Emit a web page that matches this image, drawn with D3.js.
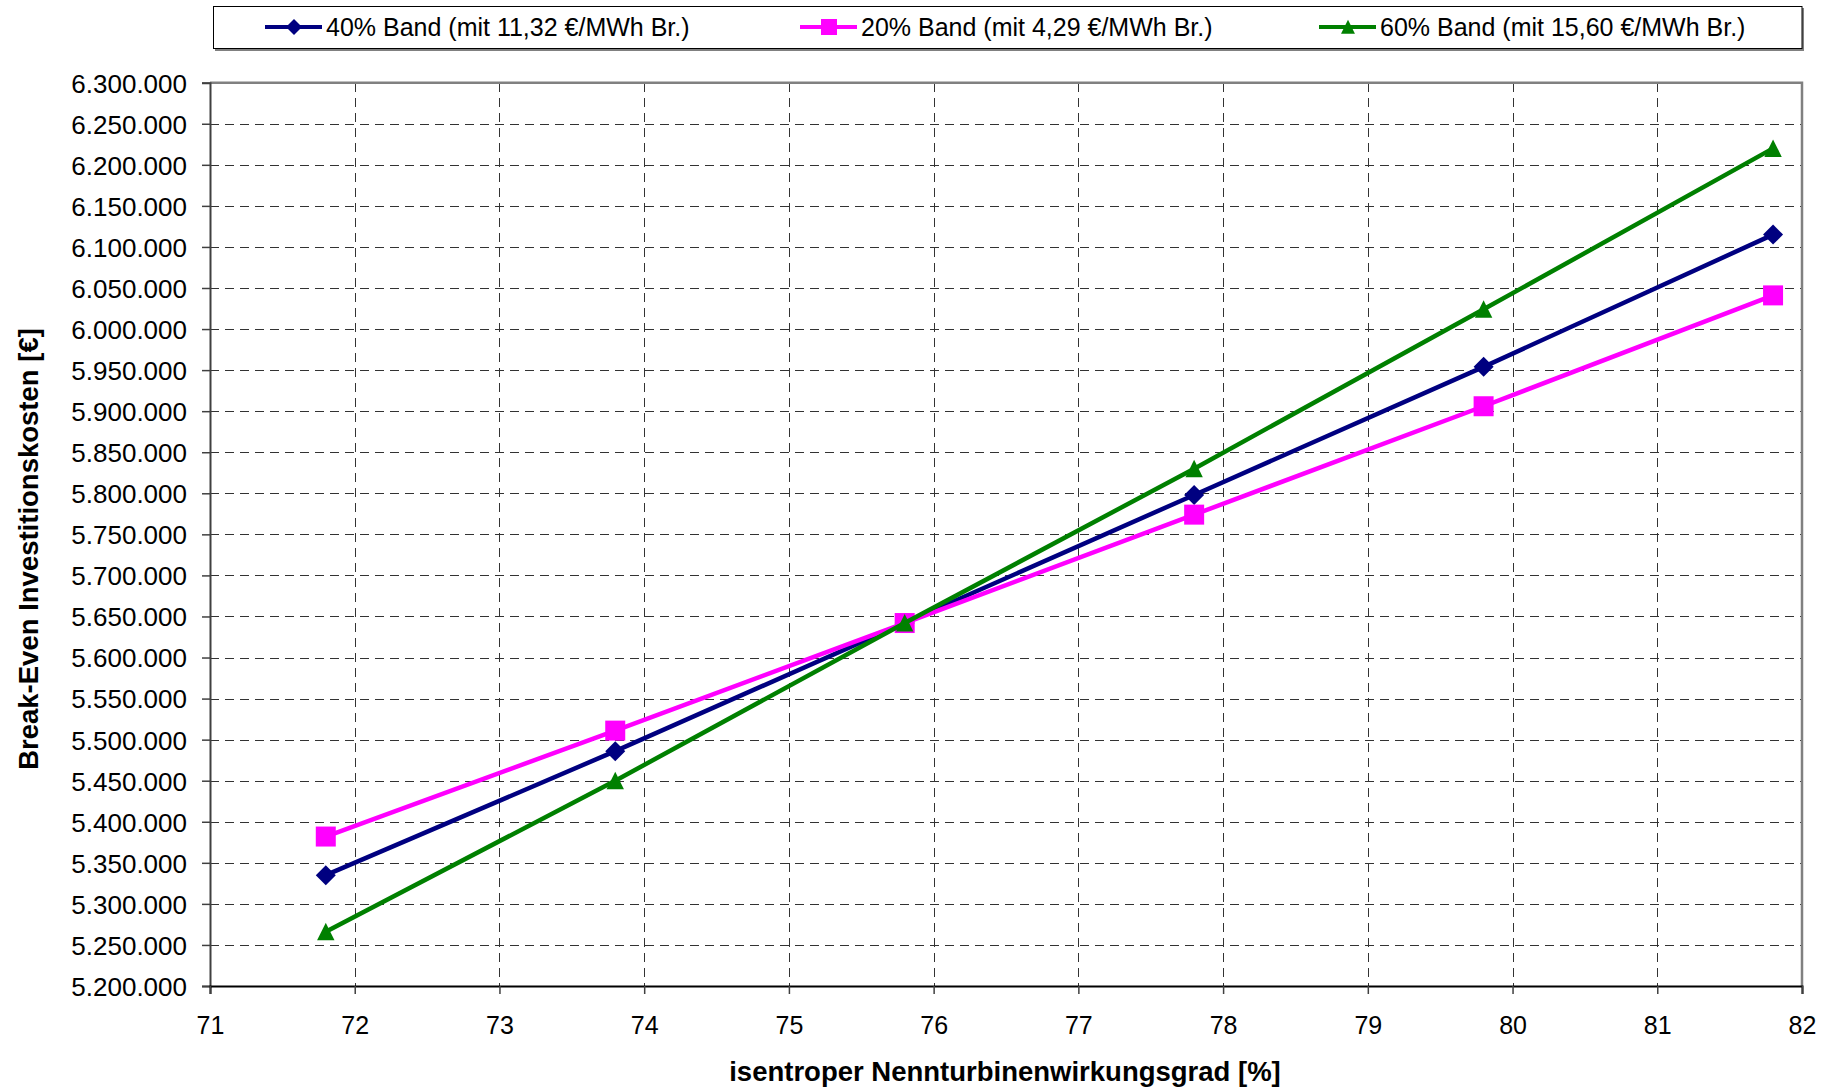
<!DOCTYPE html>
<html>
<head>
<meta charset="utf-8">
<script src="https://cdn.jsdelivr.net/npm/d3@7"></script>
<style>
  body { margin: 0; background: #fff; }
  svg { display: block; }
  text { font-family: "Liberation Sans", Arial, sans-serif; fill: #000; }
</style>
</head>
<body>
<svg id="chart" width="1836" height="1091"></svg>
<script>
// Isentropic nominal turbine efficiency [%]
const efficiency = [71.8, 73.8, 75.8, 77.8, 79.8, 81.8];

// Break-even investment costs [€] per band scenario
const band40 = [5335000, 5486000, 5642000, 5798000, 5954000, 6115000];
const band20 = [5382000, 5511000, 5642000, 5774000, 5906000, 6041000];
const band60 = [5266000, 5450000, 5642000, 5830000, 6024000, 6220000];

const seriesNames = [
  "40% Band (mit 11,32 €/MWh Br.)",
  "20% Band (mit 4,29 €/MWh Br.)",
  "60% Band (mit 15,60 €/MWh Br.)"
];
const seriesColors = ["#000080", "#FF00FF", "#008000"];
const seriesMarkers = ["diamond", "square", "triangle"];

const xTicks = [71, 72, 73, 74, 75, 76, 77, 78, 79, 80, 81, 82];
const yTicks = [5200000, 5250000, 5300000, 5350000, 5400000, 5450000, 5500000,
  5550000, 5600000, 5650000, 5700000, 5750000, 5800000, 5850000, 5900000,
  5950000, 6000000, 6050000, 6100000, 6150000, 6200000, 6250000, 6300000];

const xTitle = "isentroper Nennturbinenwirkungsgrad [%]";
const yTitle = "Break-Even Investitionskosten [€]";

const seriesValues = [band40, band20, band60];
const series = seriesNames.map((name, i) => ({
  name,
  color: seriesColors[i],
  marker: seriesMarkers[i],
  points: efficiency.map((x, j) => ({ x, y: seriesValues[i][j] }))
}));

// Layout
const plot = { left: 210, right: 1802, top: 82.7, bottom: 986 };

const x = d3.scaleLinear().domain([71, 82]).range([plot.left, plot.right]);
const y = d3.scaleLinear().domain([5200000, 6300000]).range([plot.bottom, plot.top]);

const de = d3.formatLocale({ decimal: ",", thousands: ".", grouping: [3], currency: ["", " €"] });
const fmt = de.format(",.0f");

const svg = d3.select("#chart");

// Gridlines
const grid = svg.append("g").attr("class", "grid")
  .attr("stroke", "#333").attr("stroke-width", 1).attr("stroke-dasharray", "9,6")
  .attr("shape-rendering", "crispEdges");
grid.selectAll("line.h")
  .data(yTicks.filter(t => t > 5200000 && t < 6300000))
  .join("line").attr("class", "h")
  .attr("x1", plot.left).attr("x2", plot.right)
  .attr("y1", d => Math.round(y(d)) + 0.5).attr("y2", d => Math.round(y(d)) + 0.5);
grid.selectAll("line.v")
  .data(xTicks.filter(t => t > 71 && t < 82))
  .join("line").attr("class", "v")
  .attr("y1", plot.top).attr("y2", plot.bottom)
  .attr("x1", d => Math.round(x(d)) + 0.5).attr("x2", d => Math.round(x(d)) + 0.5);

// Plot frame (top and right)
svg.append("path")
  .attr("d", `M${plot.left},${plot.top}H${plot.right}V${plot.bottom}`)
  .attr("fill", "none").attr("stroke", "#808080").attr("stroke-width", 2.5);

// Y axis
const yAxis = d3.axisLeft(y).tickValues(yTicks).tickFormat(fmt).tickSize(8).tickPadding(15);
const gy = svg.append("g").attr("transform", `translate(${plot.left},0)`).call(yAxis);
gy.select(".domain").attr("stroke", "#404040").attr("stroke-width", 2);
gy.selectAll(".tick line").attr("stroke", "#404040").attr("stroke-width", 1.5);
gy.selectAll(".tick text").attr("font-size", 26).attr("dy", "0.36em")
  .style("font-family", "'Liberation Sans', Arial, sans-serif");

// X axis
const xAxis = d3.axisBottom(x).tickValues(xTicks).tickFormat(d3.format("d")).tickSize(8).tickPadding(22);
const gx = svg.append("g").attr("transform", `translate(0,${plot.bottom})`).call(xAxis);
gx.select(".domain").attr("stroke", "#000").attr("stroke-width", 2);
gx.selectAll(".tick line").attr("stroke", "#404040").attr("stroke-width", 1.5);
gx.selectAll(".tick text").attr("font-size", 25)
  .style("font-family", "'Liberation Sans', Arial, sans-serif");
svg.selectAll(".tick text").attr("fill", "#000");

// Axis titles
svg.append("text")
  .attr("x", (plot.left + plot.right) / 2 - 1).attr("y", 1081)
  .attr("text-anchor", "middle").attr("font-size", 27.5).attr("font-weight", "bold")
  .text(xTitle);
svg.append("text")
  .attr("transform", "translate(38,549) rotate(-90)")
  .attr("text-anchor", "middle").attr("font-size", 27.5).attr("font-weight", "bold")
  .text(yTitle);

// Marker shapes
function markerPath(type, s) {
  if (type === "diamond") return `M0,${-10 * s}L${10 * s},0L0,${10 * s}L${-10 * s},0Z`;
  if (type === "square") return `M${-10 * s},${-10 * s}H${10 * s}V${10 * s}H${-10 * s}Z`;
  return `M0,${-9 * s}L${8.7 * s},${8.5 * s}L${-8.7 * s},${8.5 * s}Z`;
}

// Series lines and markers
const line = d3.line().x(d => x(d.x)).y(d => y(d.y));
const gs = svg.append("g").attr("class", "series");
series.forEach(s => {
  const g = gs.append("g");
  g.append("path").datum(s.points)
    .attr("d", line).attr("fill", "none")
    .attr("stroke", s.color).attr("stroke-width", 4.5).attr("stroke-linejoin", "round");
  g.selectAll("path.mark").data(s.points).join("path").attr("class", "mark")
    .attr("transform", d => `translate(${x(d.x)},${y(d.y)})`)
    .attr("d", markerPath(s.marker, 1))
    .attr("fill", s.color);
});

// Legend
const legend = svg.append("g").attr("class", "legend");
legend.append("rect")
  .attr("x", 215).attr("y", 8).attr("width", plot.right - 215 + 2).attr("height", 43)
  .attr("fill", "#808080");
legend.append("rect")
  .attr("x", 213.5).attr("y", 6.5).attr("width", plot.right - 213.5).attr("height", 42)
  .attr("fill", "#fff").attr("stroke", "#000").attr("stroke-width", 1);
const legendX = [294, 829, 1348];
series.forEach((s, i) => {
  const cx = legendX[i], cy = 27;
  legend.append("line")
    .attr("x1", cx - 29).attr("x2", cx + 28).attr("y1", cy).attr("y2", cy)
    .attr("stroke", s.color).attr("stroke-width", 4);
  legend.append("path")
    .attr("transform", `translate(${cx},${cy})`)
    .attr("d", markerPath(s.marker, 0.8))
    .attr("fill", s.color);
  legend.append("text")
    .attr("x", cx + 32).attr("y", cy + 9)
    .attr("font-size", 25)
    .text(s.name);
});
</script>
</body>
</html>
